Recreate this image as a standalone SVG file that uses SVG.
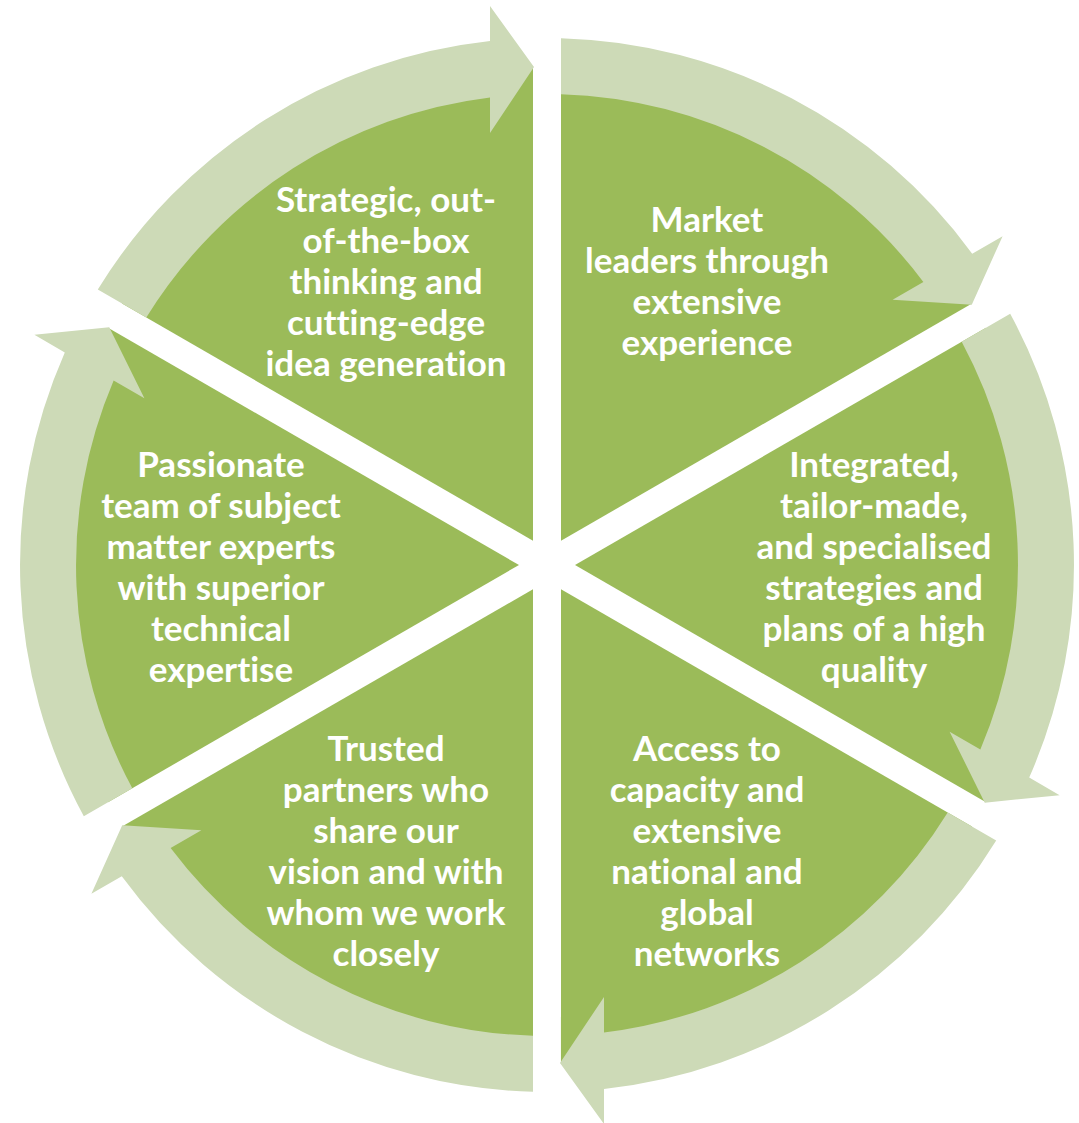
<svg xmlns="http://www.w3.org/2000/svg" width="1079" height="1123" viewBox="0 0 1079 1123">
  <defs>
    <style>
      .seg { fill: #9BBB59; }
      .arr { fill: #CDDAB7; }
      .lbl { fill: #FFFFFF; font-family: Lato, "Liberation Sans", sans-serif; font-weight: bold; font-size: 35px; text-anchor: middle; font-variant-ligatures: none; font-feature-settings: "liga" 0, "clig" 0; }
    </style>
    <path id="segShape" d="M 561 540.75 L 561 66.2 A 499 499 0 0 1 972 303.5 Z"/>
    <path id="arrShape" d="M 97.8 289.5 A 527 527 0 0 1 490 41.1 L 490 6 L 534 67 L 490 133 L 490 97.5 A 471 471 0 0 0 146.3 317.5 Z"/>
  </defs>
  <rect width="1079" height="1123" fill="#FFFFFF"/>

  <g id="segment-1">
    <use href="#segShape" class="seg" transform="rotate(-60 547 565)"/>
    <text class="lbl" x="386" y="212">Strategic, out-</text>
    <text class="lbl" x="386" y="253">of-the-box</text>
    <text class="lbl" x="386" y="294">thinking and</text>
    <text class="lbl" x="386" y="335">cutting-edge</text>
    <text class="lbl" x="386" y="376">idea generation</text>
  </g>
  <g id="segment-2">
    <use href="#segShape" class="seg"/>
    <text class="lbl" x="707" y="232">Market</text>
    <text class="lbl" x="707" y="273">leaders through</text>
    <text class="lbl" x="707" y="314">extensive</text>
    <text class="lbl" x="707" y="355">experience</text>
  </g>
  <g id="segment-3">
    <use href="#segShape" class="seg" transform="rotate(60 547 565)"/>
    <text class="lbl" x="874" y="477">Integrated,</text>
    <text class="lbl" x="874" y="518">tailor-made,</text>
    <text class="lbl" x="874" y="559">and specialised</text>
    <text class="lbl" x="874" y="600">strategies and</text>
    <text class="lbl" x="874" y="641">plans of a high</text>
    <text class="lbl" x="874" y="682">quality</text>
  </g>
  <g id="segment-4">
    <use href="#segShape" class="seg" transform="rotate(120 547 565)"/>
    <text class="lbl" x="707" y="761">Access to</text>
    <text class="lbl" x="707" y="802">capacity and</text>
    <text class="lbl" x="707" y="843">extensive</text>
    <text class="lbl" x="707" y="884">national and</text>
    <text class="lbl" x="707" y="925">global</text>
    <text class="lbl" x="707" y="966">networks</text>
  </g>
  <g id="segment-5">
    <use href="#segShape" class="seg" transform="rotate(180 547 565)"/>
    <text class="lbl" x="386" y="761">Trusted</text>
    <text class="lbl" x="386" y="802">partners who</text>
    <text class="lbl" x="386" y="843">share our</text>
    <text class="lbl" x="386" y="884">vision and with</text>
    <text class="lbl" x="386" y="925">whom we work</text>
    <text class="lbl" x="386" y="966">closely</text>
  </g>
  <g id="segment-6">
    <use href="#segShape" class="seg" transform="rotate(240 547 565)"/>
    <text class="lbl" x="221" y="477">Passionate</text>
    <text class="lbl" x="221" y="518">team of subject</text>
    <text class="lbl" x="221" y="559">matter experts</text>
    <text class="lbl" x="221" y="600">with superior</text>
    <text class="lbl" x="221" y="641">technical</text>
    <text class="lbl" x="221" y="682">expertise</text>
  </g>

  <g id="connectors">
    <use href="#arrShape" class="arr"/>
    <use href="#arrShape" class="arr" transform="rotate(60 547 565)"/>
    <use href="#arrShape" class="arr" transform="rotate(120 547 565)"/>
    <use href="#arrShape" class="arr" transform="rotate(180 547 565)"/>
    <use href="#arrShape" class="arr" transform="rotate(240 547 565)"/>
    <use href="#arrShape" class="arr" transform="rotate(300 547 565)"/>
  </g>
</svg>
